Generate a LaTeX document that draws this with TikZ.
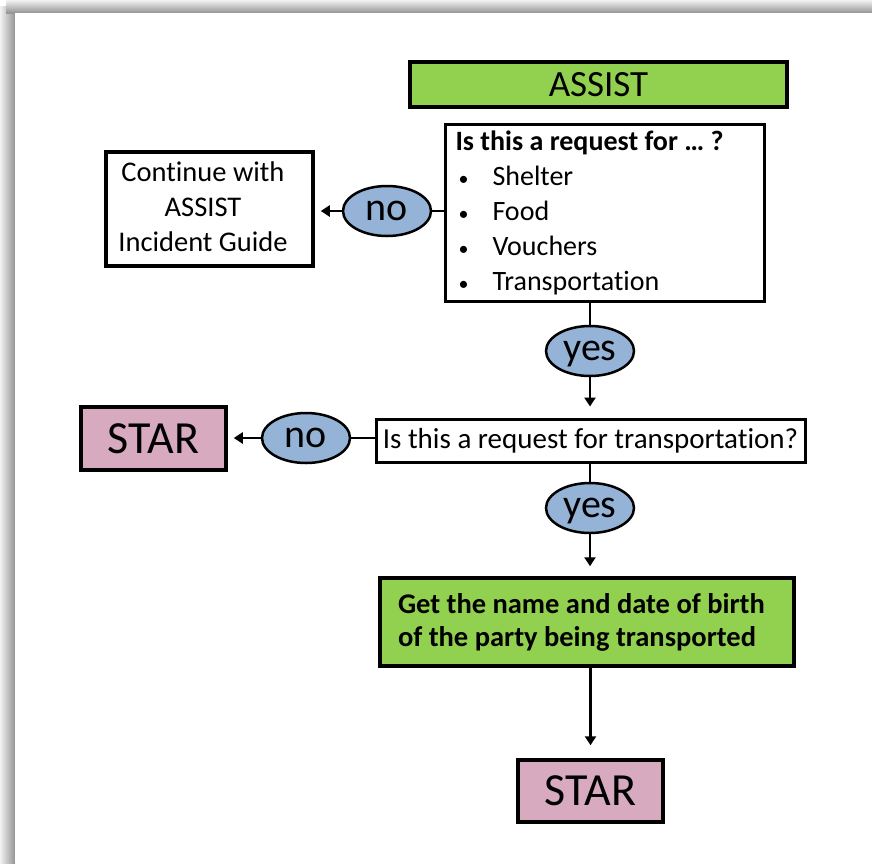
\documentclass[tikz,border=0pt]{standalone}
\usepackage{fontspec}
\setmainfont[Ligatures=NoCommon]{Carlito}
\usetikzlibrary{arrows.meta,shapes.geometric}

\definecolor{boxgreen}{RGB}{146,208,80}
\definecolor{ovalblue}{RGB}{149,179,215}
\definecolor{starpink}{RGB}{215,170,192}

\newcommand{\qitem}[1]{\makebox[37pt][l]{\hspace{3pt}\fontsize{20}{20}\selectfont\textbullet}#1}

\tikzset{
  box/.style={draw, line width=3.5pt, inner sep=0pt, align=center},
  oval/.style={ellipse, draw, line width=2.5pt, fill=ovalblue, minimum width=88, minimum height=50,
    inner sep=0pt, text depth=0pt, font=\fontsize{40}{40}\selectfont},
  link/.style={line width=2.5pt},
  arrow/.style={link, -{Triangle[width=11pt,length=9pt]}},
}

\begin{document}
\begin{tikzpicture}[x=1pt,y=-1pt]
            % Page and shadow
            \useasboundingbox (0,0) rectangle (872,863);
            \shade[left color=black!5, right color=black!42] (0,6) rectangle (15,863);
            \shade[top color=black!5, bottom color=black!42] (6,0) rectangle (872,13);
            \fill[white] (15,13) rectangle (872,863);

            % Boxes
            \node[box, fill=boxgreen, minimum width=377, minimum height=45,
              font=\fontsize{37}{37}\selectfont] (assist) at (598.5,84.5) {ASSIST};
            \node[box, line width=3pt, minimum width=319, minimum height=177, text width=298,
              align=flush left, font=\fontsize{28}{35}\selectfont] (q1) at (604.5,212.5)
              {{\bfseries\fontsize{28}{35}\selectfont Is this a request for \ldots\ ?}\\
               \qitem{Shelter}\\
               \qitem{Food}\\
               \qitem{Vouchers}\\
               \qitem{Transportation}};
            \node[box, minimum width=207, minimum height=114,
              font=\fontsize{28.5}{35}\selectfont] (cont) at (209.5,209)
              {\begin{tabular}{@{}c@{}}Continue with\\ASSIST\\Incident Guide\end{tabular}\hspace*{13pt}};
            \node[box, line width=3pt, minimum width=429, minimum height=43,
              font=\fontsize{29}{29}\selectfont] (q2) at (590.5,440.5)
              {Is this a request for transportation?};
            \node[box, fill=starpink, minimum width=145, minimum height=63,
              font=\fontsize{46}{46}\selectfont] (star1) at (153.5,438.5) {STAR};
            \node[box, fill=boxgreen, minimum width=414, minimum height=88, text width=378,
              align=flush left, font=\bfseries\fontsize{28.5}{33}\selectfont] (get) at (587,622)
              {Get the name and date of birth\\of the party being transported};
            \node[box, fill=starpink, minimum width=145, minimum height=62,
              font=\fontsize{46}{46}\selectfont] (star2) at (590.5,791) {STAR};

            % Answers
            \node[oval] (no1) at (387,211) {no};
            \node[oval] (yes1) at (590,351) {yes};
            \node[oval] (no2) at (306,438) {no};
            \node[oval] (yes2) at (590,508) {yes};

            % Connectors
            \draw[link] (no1.east) -- (no1.east -| q1.west);
            \draw[arrow, shorten >=6pt] (no1.west) -- (no1.west -| cont.east);
            \draw[link] (q1.south -| yes1) -- (yes1.north);
            \draw[arrow, shorten >=11pt] (yes1.south) -- (yes1.south |- q2.north);
            \draw[link] (no2.east) -- (no2.east -| q2.west);
            \draw[arrow, shorten >=6pt] (no2.west) -- (no2.west -| star1.east);
            \draw[link] (q2.south -| yes2) -- (yes2.north);
            \draw[arrow, shorten >=10pt] (yes2.south) -- (yes2.south |- get.north);
            \draw[arrow, shorten >=13pt] (get.south -| star2) -- (star2.north);
\end{tikzpicture}
\end{document}
